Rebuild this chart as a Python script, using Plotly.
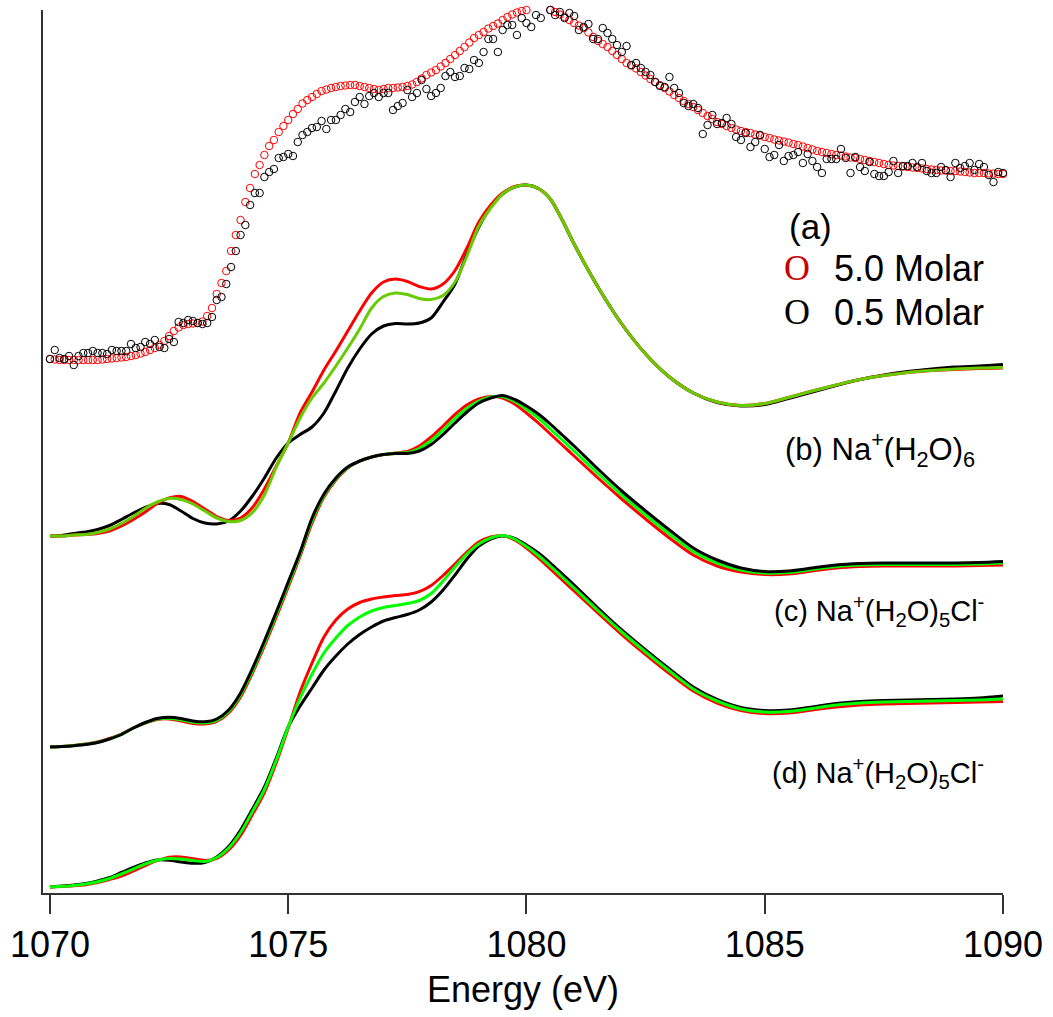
import numpy as np
import plotly.graph_objects as go

# ---------------------------------------------------------------------------
# Energy grids (eV)
# ---------------------------------------------------------------------------
line_energy = [float(e) for e in np.arange(1070.0, 1081.001, 0.25)] + \
              [float(e) for e in np.arange(1081.5, 1090.001, 0.5)]
scatter_energy = [round(float(e), 1) for e in np.arange(1070.0, 1090.0001, 0.1)]

# ---------------------------------------------------------------------------
# (a) Measured Na K-edge spectra, arbitrary units above their own baseline
# ---------------------------------------------------------------------------
exp_5_0_molar = [
    1, 0.5, 0, 0, 0, 0, 0, 0, 0, 0,
    0, 0.5, 1, 1.5, 2, 2.5, 3, 4, 5, 6.5,
    8, 10, 12, 15, 19, 24, 29, 32.5, 35, 36,
    36.5, 37, 38.5, 44, 52, 66, 77, 89, 109, 125,
    140, 158, 172, 186, 195, 205, 214, 220, 228, 234,
    240, 246, 251, 256.5, 260, 263, 266, 269, 270.5, 272,
    273, 274, 274.5, 275, 275, 274, 273, 272, 271, 270,
    271, 272, 272, 272.5, 273, 274, 275.5, 278, 281.5, 285,
    287.5, 290, 293.5, 297, 301, 305, 309, 313, 317.5, 322,
    325, 328, 331.5, 334, 336.5, 340, 343, 345.5, 347.5, 349,
    350, 351, 352, 352, 352, 350, 348, 345.5, 343, 340,
    337, 334.5, 332, 327.5, 323, 319, 316, 313, 309, 305,
    301, 297, 294.5, 291.5, 288, 284.5, 281, 278, 275, 272,
    268.5, 265, 262, 259, 256, 253, 250, 247, 244, 241,
    238, 236, 234, 232, 230.5, 229, 228, 227, 225.5, 224.5,
    223, 222, 220.5, 219.5, 218.5, 217.5, 216, 215, 213.5, 212,
    210.5, 209, 208, 207, 206, 205, 204.5, 203.5, 202.5, 202,
    201, 200, 199, 198, 197, 196, 195, 194.5, 194, 193.5,
    193, 192.5, 192, 191.5, 191, 190.5, 190, 189.5, 189.5, 189,
    189, 188.5, 188, 187.5, 187, 187, 187, 186.5, 186.5, 186,
    186,
]

exp_0_5_molar = [
    1, 10, 2, 1, 4, -5, 4, 7, 7, 9,
    7, 7, 6, 10, 9, 9, 9, 16, 12, 13,
    18, 16, 20, 13, 12, 21, 18, 38, 37, 40,
    39, 37, 36, 37, 43, 60, 63, 76, 93, 109,
    125, 135, 155, 167, 167, 183, 188, 191, 202, 203,
    206, 204, 218, 225, 228, 232, 233, 239, 231, 240,
    240, 245, 251, 248, 258, 263, 256, 264, 267, 263,
    267, 267, 250, 254, 257, 270, 263, 267, 280, 271,
    264, 267, 272, 284, 288, 283, 284, 292, 291, 300,
    297, 308, 321, 321, 308, 330, 335, 335, 325, 342,
    337, 333, 345, 342, 351, 350, 345, 348, 342, 347,
    344, 330, 333, 336, 321, 321, 332, 327, 321, 315,
    308, 314, 295, 297, 292, 288, 285, 278, 274, 273,
    283, 272, 267, 257, 254, 256, 252, 226, 235, 245,
    236, 237, 242, 236, 223, 220, 227, 213, 218, 225,
    211, 203, 205, 215, 199, 204, 205, 208, 197, 206,
    199, 193, 187, 201, 201, 201, 211, 202, 187, 203,
    193, 189, 198, 186, 184, 184, 188, 199, 187, 194,
    194, 197, 193, 197, 189, 187, 187, 193, 190, 183,
    197, 192, 194, 197, 190, 196, 193, 185, 178, 188,
    187,
]

# ---------------------------------------------------------------------------
# (b)-(d) Calculated spectra (red / green / black models)
# ---------------------------------------------------------------------------
b_black = [0, 0.5, 2.5, 4, 6.5, 10.5, 16.5, 23, 28.5, 32.5,
           31.5, 25, 17.5, 13, 12, 15, 25, 40, 58, 78,
           93, 101.5, 109, 123, 145, 168, 187, 202, 210, 212.5,
           212, 213, 218, 234, 252, 282, 309, 329, 342, 349,
           351, 347.5, 337, 316, 292,
           249, 212, 182, 159, 143, 133.5, 130, 131.5, 137.5, 144,
           150.5, 156.5, 161, 164.5, 167, 169, 170, 171.5]
b_red = [0, 0, 1, 1.5, 2.5, 5, 10, 16.5, 24, 32.5,
         38, 39.5, 34.5, 27, 19.5, 15.5, 18, 28.5, 47, 70,
         93, 123, 144, 166, 185, 205, 225, 243, 254, 257,
         254.5, 249.5, 247, 252, 265.5, 288, 314, 331, 343, 349.5,
         351, 347.5, 337, 316, 292,
         249, 212, 182, 159, 143, 134, 130.5, 132.5, 138.5, 145,
         151, 156.5, 160.5, 163.5, 165.5, 166.5, 167.5, 168]
b_green = [0, 0, 1, 1.5, 3.5, 7, 12.5, 19.5, 27.5, 34,
           37.5, 36.5, 32, 25, 18, 14.5, 15.5, 23.5, 41, 69,
           93, 118, 138, 153, 170, 188, 207, 228, 239.5, 243,
           241.5, 237.5, 236.5, 240.5, 254, 280, 310, 328, 342, 349,
           351, 347.5, 337, 316, 292,
           249, 212, 182, 159, 143, 134, 130.5, 132.5, 138.5, 145,
           151, 156.5, 160.5, 163.5, 165.5, 167, 168, 168.5]

c_black = [0, 0.5, 1.3, 2.5, 4.5, 8, 12.5, 19, 24.5, 28.5,
           29.7, 28.5, 26, 25.2, 28, 37, 54, 78.5, 106, 135,
           165, 195, 229, 253, 269, 280, 286, 290, 292.5, 293.5,
           293.5, 296, 302.5, 312.5, 324, 335, 344, 349, 351.5, 347.5,
           341, 333, 323, 312, 301,
           278, 256, 236, 217, 199, 187, 179, 175.5, 176, 179,
           182, 183.5, 184, 184, 184, 184, 184.5, 185.5]
c_red = [0, 0.5, 1.5, 3, 5, 8.5, 13, 19, 24, 27.5,
         28, 26, 23.5, 23, 25.5, 34, 50, 74, 101, 130,
         160, 191, 224, 250, 267, 279, 286, 290, 292.5, 294,
         295.5, 301, 310, 321, 332.5, 342, 348, 350.5, 349, 343,
         334, 324, 313, 302, 291,
         269, 248, 228, 209, 192, 181, 175, 172.5, 173, 176,
         179, 180.5, 181, 181, 181, 181, 181.5, 182]
c_green = [0, 0.5, 1.4, 2.7, 4.7, 8.2, 12.7, 19, 24.2, 28,
           28.8, 27.2, 24.7, 24, 26.7, 35.5, 52, 76, 103.5, 132.5,
           162.5, 193, 226.5, 251.5, 268, 279.5, 286, 290, 292.5, 293.7,
           294.5, 298.5, 306.5, 317, 328.5, 338.5, 346, 350, 350.5, 345.5,
           338, 329, 318, 307, 296,
           273.5, 252, 232, 213, 195.5, 184, 177, 174, 174.5, 177.5,
           180.5, 182, 182.5, 182.5, 182.5, 182.5, 183, 184]

d_black = [0, 1, 2, 3.5, 6, 9.5, 14.5, 19.5, 24, 27,
           26.7, 25, 23.7, 24.5, 30, 40.5, 57, 78, 100, 129,
           160, 181, 199, 217, 231, 243, 252.5, 260, 266, 269.5,
           272.5, 277, 285, 297, 312, 328, 341, 348, 351, 348.5,
           342, 334, 324, 313, 302,
           279, 257, 237, 218, 200, 187.5, 179.5, 176.5, 177, 180,
           183.5, 185.5, 186.5, 187, 187.5, 188, 189, 191]
d_red = [0, 0.5, 1.2, 2.3, 4.5, 7.5, 11, 16, 21.5, 26.3,
         29.7, 30, 28.3, 26.5, 28.7, 37, 51.5, 72.5, 94.5, 124.5,
         159, 195, 224, 250, 267, 278, 284.5, 288, 290, 291.5,
         292.5, 295.3, 301.5, 311.5, 323, 335, 345, 350, 351.5, 347,
         339, 329, 318, 307, 296,
         274, 252.5, 232.5, 213.5, 196, 184, 176.5, 173.5, 174, 177,
         180, 182, 183, 183.5, 184, 184.5, 185, 185.5]
d_green = [0, 0.7, 1.6, 3, 5.2, 8.5, 13, 18, 23, 26.7,
           28.5, 28, 26.5, 25.5, 29.5, 39, 54.5, 75.5, 97.5, 127,
           160, 189, 213, 234, 249, 261.5, 270, 276, 279.5, 281.5,
           283.5, 286.5, 293.5, 306, 320, 333, 343, 349, 351.5, 348,
           340.5, 331.5, 321, 310, 299,
           276.5, 255, 235, 216, 198, 186, 178, 175, 175.5, 178.5,
           182, 184, 185, 185.5, 186, 186.5, 187, 188]

# Vertical offsets used to stack the spectra
offsets = {"a": 533, "b": 357, "c": 146, "d": 6}

RED = "#ff0000"
BLACK = "#000000"
GREEN_B = "#66cc00"
GREEN_CD = "#00ff00"
FONT = "Liberation Sans, Arial, sans-serif"
SERIF = "Liberation Serif, Times New Roman, serif"


def shifted(values, key):
    return [offsets[key] + v for v in values]


fig = go.Figure()

# stacked calculated spectra, drawing order per panel
panels = [
    ("b", [(b_black, BLACK), (b_red, RED), (b_green, GREEN_B)]),
    ("c", [(c_red, RED), (c_green, GREEN_CD), (c_black, BLACK)]),
    ("d", [(d_black, BLACK), (d_red, RED), (d_green, GREEN_CD)]),
]
for key, series in panels:
    for vals, color in series:
        fig.add_trace(go.Scatter(
            x=line_energy, y=shifted(vals, key), mode="lines",
            line=dict(color=color, width=3, shape="spline", smoothing=0.8),
            showlegend=False, hoverinfo="skip",
        ))

# experimental data as open circles
for vals, color in [(exp_5_0_molar, RED), (exp_0_5_molar, BLACK)]:
    fig.add_trace(go.Scatter(
        x=scatter_energy, y=shifted(vals, "a"), mode="markers",
        marker=dict(symbol="circle-open", size=7.5, color=color,
                    line=dict(width=1, color=color)),
        cliponaxis=False, showlegend=False, hoverinfo="skip",
    ))

# ---------------------------------------------------------------------------
# Labels
# ---------------------------------------------------------------------------
ann = []
ann.append(dict(x=1085.95, y=667, text="(a)", xanchor="center", yanchor="middle",
                font=dict(family=FONT, size=35, color="black")))
ann.append(dict(x=1085.68, y=625, text="O", xanchor="center", yanchor="middle",
                font=dict(family=SERIF, size=36, color="#cc0000")))
ann.append(dict(x=1086.41, y=625, text="5.0 Molar", xanchor="left", yanchor="middle",
                font=dict(family=FONT, size=36, color="black")))
ann.append(dict(x=1085.68, y=581, text="O", xanchor="center", yanchor="middle",
                font=dict(family=SERIF, size=36, color="black")))
ann.append(dict(x=1086.41, y=581, text="0.5 Molar", xanchor="left", yanchor="middle",
                font=dict(family=FONT, size=36, color="black")))
ann.append(dict(x=1089.45, y=444, text="(b) Na<sup>+</sup>(H<sub>2</sub>O)<sub>6</sub>",
                xanchor="right", yanchor="middle",
                font=dict(family=FONT, size=31, color="black")))
ann.append(dict(x=1089.65, y=282, text="(c) Na<sup>+</sup>(H<sub>2</sub>O)<sub>5</sub>Cl<sup>-</sup>",
                xanchor="right", yanchor="middle",
                font=dict(family=FONT, size=29, color="black")))
ann.append(dict(x=1089.65, y=120, text="(d) Na<sup>+</sup>(H<sub>2</sub>O)<sub>5</sub>Cl<sup>-</sup>",
                xanchor="right", yanchor="middle",
                font=dict(family=FONT, size=29, color="black")))
for a in ann:
    a.update(xref="x", yref="y", showarrow=False)

fig.update_layout(
    width=1053, height=1017,
    margin=dict(l=42, r=46, t=10, b=124),
    paper_bgcolor="white", plot_bgcolor="white",
    annotations=ann,
    xaxis=dict(
        range=[1069.854, 1090.0],
        tickvals=[1070, 1075, 1080, 1085, 1090],
        ticks="outside", ticklen=19, tickwidth=1.5, tickcolor="#333333",
        showline=True, linecolor="#333333", linewidth=1.5,
        showgrid=False, zeroline=False,
        tickfont=dict(family=FONT, size=36, color="black"),
        title=dict(text="Energy (eV)", font=dict(family=FONT, size=36, color="black"),
                   standoff=13),
    ),
    yaxis=dict(
        range=[0, 883],
        showline=True, linecolor="#333333", linewidth=2,
        showticklabels=False, ticks="", showgrid=False, zeroline=False,
    ),
)

fig.write_html("out.html")
